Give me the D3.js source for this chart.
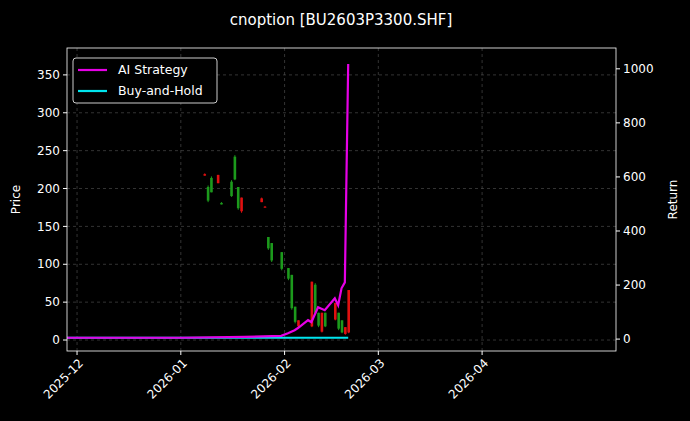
<!DOCTYPE html><html><head><meta charset="utf-8">
<script src="https://cdn.jsdelivr.net/npm/d3@7"></script>
<style>body{margin:0;background:#000}svg{display:block}text{font-family:"DejaVu Sans",sans-serif}</style>
</head><body><svg id="c" width="690" height="421"></svg><script>
const candleDates=["2026-01-08","2026-01-09","2026-01-10","2026-01-12","2026-01-13","2026-01-16","2026-01-17","2026-01-18","2026-01-19","2026-01-25","2026-01-26","2026-01-27","2026-01-28","2026-01-31","2026-02-02","2026-02-03","2026-02-04","2026-02-05","2026-02-09","2026-02-10","2026-02-11","2026-02-12","2026-02-13","2026-02-16","2026-02-17","2026-02-18","2026-02-19","2026-02-20"];
// red = close above open, green = close below open
const opens =[217,202,214,207,181,209,242,202,170,182,175,136,128,116,95,86,44,18,18,73,36,11,36,27,36,26,8,10];
const closes=[219,184,195,218,179,190,212,174,188,187,176,121,105,94,81,42,24,26,77,36,19,36,18,49,15,10,17,66];
const highs =[220,204,216,218,182,211,244,202,188,188,177,136,128,116,95,86,44,26,77,75,36,36,36,49,36,26,17,66];
const lows  =[217,182,195,207,179,189,211,172,168,182,175,119,103,92,79,40,22,17,17,36,17,10,17,26,13,9,7,9];
const stratDates=["2025-11-28","2026-01-01","2026-01-20","2026-01-31","2026-02-02","2026-02-04","2026-02-05","2026-02-08","2026-02-09","2026-02-11","2026-02-13","2026-02-16","2026-02-17","2026-02-18","2026-02-19","2026-02-20"];
const stratVals=[5,5,8,12,22,33,41,70,63,118,107,151,125,188,210,1018];
const bhDates=["2025-11-28","2026-02-20"];
const bhVals=[5,5];
const xTicks=["2025-12-01","2026-01-01","2026-02-01","2026-03-01","2026-04-01"];
const priceTicks=[0,50,100,150,200,250,300,350];
const retTicks=[0,200,400,600,800,1000];

const P=d3.timeParse("%Y-%m-%d");
const svg=d3.select("#c");
const L=67,R=616,T=48,B=351;
const x=d3.scaleTime().domain([new Date(2025,10,28),new Date(2026,4,11)]).range([L,R]);
const y=d3.scaleLinear().domain([-14.5,385.5]).range([B,T]);
const y2=d3.scaleLinear().domain([-44,1077]).range([B,T]);
svg.append("rect").attr("width",690).attr("height",421).attr("fill","#000");
const g=svg.append("g");
xTicks.forEach(t=>g.append("line").attr("x1",x(P(t))).attr("x2",x(P(t))).attr("y1",T).attr("y2",B).attr("stroke","#555").attr("stroke-dasharray","3,3").attr("stroke-width",0.6));
priceTicks.forEach(t=>g.append("line").attr("x1",L).attr("x2",R).attr("y1",y(t)).attr("y2",y(t)).attr("stroke","#555").attr("stroke-dasharray","3,3").attr("stroke-width",0.6));
candleDates.forEach((d,i)=>{
  const cx=x(P(d))+0.5, red=closes[i]>opens[i], col=red?"#e01010":"#1c9a1c";
  g.append("line").attr("x1",cx).attr("x2",cx).attr("y1",y(highs[i])).attr("y2",y(lows[i])).attr("stroke",col).attr("stroke-width",1);
  const top=y(Math.max(opens[i],closes[i])), bot=y(Math.min(opens[i],closes[i]));
  g.append("rect").attr("x",cx-1.3).attr("width",2.6).attr("y",top).attr("height",Math.max(1,bot-top)).attr("fill",col);
});
const line=d3.line().x(d=>x(d[0])).y(d=>y2(d[1]));
g.append("path").datum(bhDates.map((d,i)=>[P(d),bhVals[i]])).attr("d",line).attr("fill","none").attr("stroke","#00e5ee").attr("stroke-width",2);
g.append("path").datum(stratDates.map((d,i)=>[P(d),stratVals[i]])).attr("d",line).attr("fill","none").attr("stroke","#e600e6").attr("stroke-width",2.2);
svg.append("rect").attr("x",L).attr("y",T).attr("width",R-L).attr("height",B-T).attr("fill","none").attr("stroke","#fff").attr("stroke-width",0.8);
const ax=svg.append("g").attr("fill","#fff").attr("font-size",12);
priceTicks.forEach(t=>{ax.append("line").attr("x1",L-4).attr("x2",L).attr("y1",y(t)).attr("y2",y(t)).attr("stroke","#fff");
 ax.append("text").attr("x",L-7).attr("y",y(t)).attr("dy","0.35em").attr("text-anchor","end").text(t);});
retTicks.forEach(t=>{ax.append("line").attr("x1",R).attr("x2",R+4).attr("y1",y2(t)).attr("y2",y2(t)).attr("stroke","#fff");
 ax.append("text").attr("x",R+7).attr("y",y2(t)).attr("dy","0.35em").text(t);});
xTicks.forEach(t=>{const px=x(P(t));ax.append("line").attr("x1",px).attr("x2",px).attr("y1",B).attr("y2",B+4).attr("stroke","#fff");
 ax.append("text").attr("transform",`translate(${px+4},${B+10}) rotate(-45)`).attr("text-anchor","end").attr("dy","0.35em").text(t.slice(0,7));});
ax.append("text").attr("transform",`translate(20,${(T+B)/2}) rotate(-90)`).attr("text-anchor","middle").text("Price");
ax.append("text").attr("transform",`translate(677,${(T+B)/2}) rotate(-90)`).attr("text-anchor","middle").text("Return");
svg.append("text").attr("x",341).attr("y",25).attr("text-anchor","middle").attr("fill","#fff").attr("font-size",15).text("cnoption [BU2603P3300.SHF]");
const lg=svg.append("g");
lg.append("rect").attr("x",73).attr("y",58).attr("width",144).attr("height",45).attr("rx",3).attr("fill","#000").attr("stroke","#ccc");
[["AI Strategy","#e600e6"],["Buy-and-Hold","#00e5ee"]].forEach((e,i)=>{const yy=70+i*21;
 lg.append("line").attr("x1",78).attr("x2",107).attr("y1",yy).attr("y2",yy).attr("stroke",e[1]).attr("stroke-width",2.2);
 lg.append("text").attr("x",118).attr("y",yy).attr("dy","0.35em").attr("fill","#fff").attr("font-size",12.5).text(e[0]);});
</script></body></html>
